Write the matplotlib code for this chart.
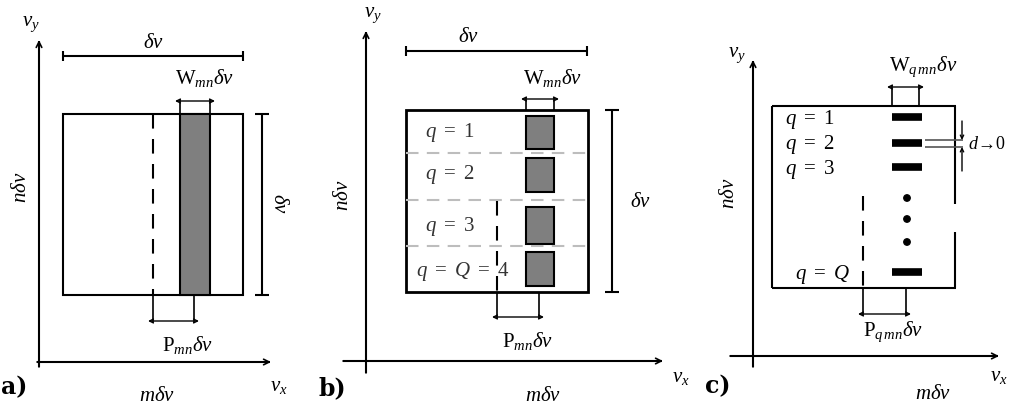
import matplotlib
matplotlib.use("Agg")
import matplotlib.pyplot as plt
from matplotlib.patches import Rectangle, Circle

plt.rcParams['font.family'] = ['Liberation Serif', 'DejaVu Serif']
plt.rcParams['mathtext.fontset'] = 'custom'
plt.rcParams['mathtext.rm'] = 'Liberation Serif'
plt.rcParams['mathtext.it'] = 'Liberation Serif:italic'
plt.rcParams['mathtext.bf'] = 'Liberation Serif:bold'

# ---- content ----
panel_labels = ['a)', 'b)', 'c)']
axis_x_label = r'$v_x$'
axis_y_label = r'$v_y$'
dim_label = r'$\delta\nu$'
m_label = r'$m\delta\nu$'
n_label = r'$n\delta\nu$'
w_labels = [r'$\mathrm{W}_{mn}\delta\nu$', r'$\mathrm{W}_{mn}\delta\nu$', r'$\mathrm{W}_{q\,mn}\delta\nu$']
p_labels = [r'$\mathrm{P}_{mn}\delta\nu$', r'$\mathrm{P}_{mn}\delta\nu$', r'$\mathrm{P}_{q\,mn}\delta\nu$']
q_labels_b = [r'$q\ =\ 1$', r'$q\ =\ 2$', r'$q\ =\ 3$', r'$q\ =\ Q\ =\ 4$']
q_labels_c = [r'$q\ =\ 1$', r'$q\ =\ 2$', r'$q\ =\ 3$', r'$q\ =\ Q$']
d_label = r'$d$' + '→0'

fig = plt.figure(figsize=(10.10, 4.14), dpi=100)
ax = fig.add_axes([0, 0, 1, 1])
ax.set_xlim(0, 1010)
ax.set_ylim(414, 0)
ax.axis('off')

K = 'black'
LW = 1.5
FS = 15


def line(x1, y1, x2, y2, **kw):
    kw.setdefault('color', K)
    kw.setdefault('lw', LW)
    ax.plot([x1, x2], [y1, y2], solid_capstyle='butt', **kw)


def arrow(x1, y1, x2, y2, style='->', ms=12, lw=1.2, color=K):
    ax.annotate('', xy=(x2, y2), xytext=(x1, y1),
                arrowprops=dict(arrowstyle=style, lw=lw, color=color,
                                shrinkA=0, shrinkB=0, mutation_scale=ms))


def hdim(x1, x2, y, t=5):
    line(x1, y, x2, y)
    line(x1, y - t, x1, y + t)
    line(x2, y - t, x2, y + t)


def vdim(x, y1, y2, t=5):
    line(x, y1, x, y2)
    line(x - t, y1, x + t, y1)
    line(x - t, y2, x + t, y2)


def axes_frame(ox, oy, xs, xe, ys, ye, lab, lab_xy, vx_xy, vy_xy, m_xy, n_xy):
    line(ox, ye, ox, ys, lw=1.5)
    arrow(ox, ye, ox, ys - 1, ms=10)
    line(xs, oy, xe, oy, lw=1.5)
    arrow(xs, oy, xe + 1, oy, ms=10)
    ax.text(*lab_xy, lab, fontsize=17, fontweight='bold', ha='center', va='center',
            family=['DejaVu Serif'])
    ax.text(*vx_xy, axis_x_label, fontsize=15, ha='center', va='center')
    ax.text(*vy_xy, axis_y_label, fontsize=15, ha='center', va='center')
    ax.text(*m_xy, m_label, fontsize=FS, ha='center', va='center')
    ax.text(*n_xy, n_label, fontsize=FS, ha='center', va='center', rotation=90)


def wdim(x1, x2, ytop, ybox, lab, lab_xy):
    line(x1, ytop - 2, x1, ybox, lw=1.2)
    line(x2, ytop - 2, x2, ybox, lw=1.2)
    arrow(x1 - 5, ytop, x2 + 5, ytop, style='<->', ms=7, lw=1.0)
    ax.text(*lab_xy, lab, fontsize=FS, ha='center', va='center')


def pdim(x1, x2, ybox, ybot, lab, lab_xy):
    line(x2, ybox, x2, ybot + 2, lw=1.2)
    line(x1, ybox, x1, ybot + 2, lw=1.2)
    arrow(x1 - 5, ybot, x2 + 5, ybot, style='<->', ms=7, lw=1.0)
    ax.text(*lab_xy, lab, fontsize=FS, ha='center', va='center')


# ================= panel a =================
axes_frame(39, 363, 37, 270, 42, 368, panel_labels[0], (14, 387), (279, 387), (31, 24),
           (157, 397), (22, 187))
hdim(63, 243, 57)
ax.text(153, 44, dim_label, fontsize=FS, ha='center', va='center')
ax.add_patch(Rectangle((63, 115), 180, 181, fill=False, ec=K, lw=LW))
ax.add_patch(Rectangle((180, 115), 30, 181, fc='#7f7f7f', ec=K, lw=LW))
line(153, 115, 153, 296, ls=(0, (7, 5)))
wdim(180, 210, 102, 115, w_labels[0], (205, 78))
pdim(153, 194, 296, 322, p_labels[0], (188, 345))
vdim(262, 115, 296, t=7)
ax.text(279, 203, dim_label, fontsize=FS, ha='center', va='center', rotation=-90)

# ================= panel b =================
axes_frame(366, 362, 343, 662, 33, 374, panel_labels[1], (332, 388), (681, 378), (373, 15),
           (543, 397), (343, 195))
hdim(406, 587, 52)
ax.text(468, 38, dim_label, fontsize=FS, ha='center', va='center')
box_b = (406, 111, 588, 293)
for yy in [154, 201, 247]:
    line(box_b[0], yy, box_b[2], yy, color='#bdbdbd', ls=(0, (6, 4)))
ax.add_patch(Rectangle((box_b[0], box_b[1]), box_b[2] - box_b[0], box_b[3] - box_b[1],
                       fill=False, ec=K, lw=2))
sq_b = [(117, 150), (159, 193), (208, 245), (253, 287)]
for y1, y2 in sq_b:
    ax.add_patch(Rectangle((526, y1), 28, y2 - y1, fc='#7f7f7f', ec=K, lw=LW))
q_pos_b = [(450, 133), (450, 175), (450, 227), (463, 272)]
for (qx, qy), t in zip(q_pos_b, q_labels_b):
    ax.text(qx, qy, t, fontsize=FS, ha='center', va='center', color='#333333')
line(497, 202, 497, 293, ls=(0, (7, 5)))
wdim(526, 554, 100, 111, w_labels[1], (553, 78))
pdim(497, 539, 293, 318, p_labels[1], (528, 341))
vdim(612, 111, 293, t=7)
ax.text(640, 203, dim_label, fontsize=FS, ha='center', va='center')

# ================= panel c =================
axes_frame(753, 357, 730, 998, 62, 368, panel_labels[2], (718, 386), (999, 377), (737, 55),
           (933, 395), (730, 193))
# box with gap on right edge
line(772, 107, 956, 107, lw=LW)
line(772, 289, 956, 289, lw=LW)
line(772, 107, 772, 289, lw=LW)
line(955, 107, 955, 205, lw=LW)
line(955, 233, 955, 289, lw=LW)
bars_c = [118, 144, 168, 273]
for yy in bars_c:
    line(892, yy, 922, yy, lw=5.5)
dots_c = [199, 220, 243]
for yy in dots_c:
    ax.add_patch(Circle((907, yy), 3.2, color=K))
q_pos_c = [(810, 120), (810, 145), (810, 170), (822, 275)]
for (qx, qy), t in zip(q_pos_c, q_labels_c):
    ax.text(qx, qy, t, fontsize=FS, ha='center', va='center')
line(863, 197, 863, 289, ls=(0, (7, 5)))
wdim(892, 919, 88, 107, w_labels[2], (923, 67))
pdim(863, 906, 289, 315, p_labels[2], (893, 332))
# d indicator
line(925, 141, 963, 141, lw=1.2, color='#555555')
line(925, 148, 963, 148, lw=1.2, color='#555555')
arrow(962, 122, 962, 141, ms=6, lw=1.0)
arrow(962, 172, 962, 148, ms=6, lw=1.0)
ax.text(968, 145, d_label, fontsize=13, ha='left', va='center')

fig.savefig('out.png', dpi=100)
